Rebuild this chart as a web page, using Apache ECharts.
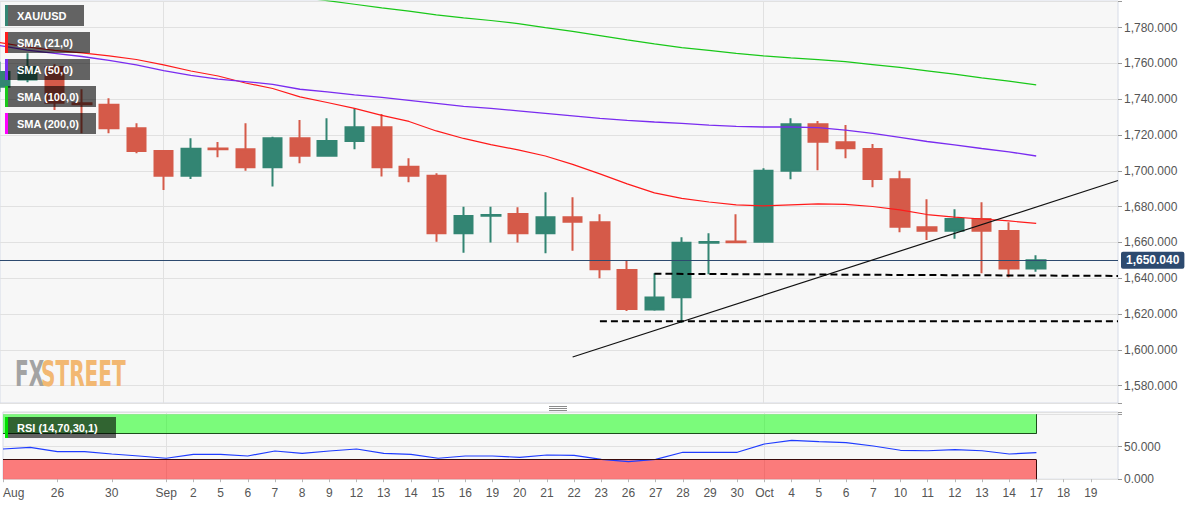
<!DOCTYPE html>
<html>
<head>
<meta charset="utf-8">
<script src="https://cdn.jsdelivr.net/npm/echarts@6/dist/echarts.min.js"></script>
<style>
html,body{margin:0;padding:0;background:#ffffff;}
#chart{width:1194px;height:506px;}
</style>
</head>
<body>
<div id="chart"></div>
<script>
// ---------- DATA ----------
const categories = ['2022-08-24','2022-08-25','2022-08-26','2022-08-29','2022-08-30','2022-08-31',
  '2022-09-01','2022-09-02','2022-09-05','2022-09-06','2022-09-07','2022-09-08','2022-09-09','2022-09-12',
  '2022-09-13','2022-09-14','2022-09-15','2022-09-16','2022-09-19','2022-09-20','2022-09-21','2022-09-22',
  '2022-09-23','2022-09-26','2022-09-27','2022-09-28','2022-09-29','2022-09-30','2022-10-03','2022-10-04',
  '2022-10-05','2022-10-06','2022-10-07','2022-10-10','2022-10-11','2022-10-12','2022-10-13','2022-10-14',
  '2022-10-17','2022-10-18','2022-10-19','2022-10-20'];
const tickLabels = ['Aug','','26','','30','',
  'Sep','2','5','6','7','8','9','12','13','14','15','16','19','20','21','22','23','26','27','28','29','30',
  'Oct','4','5','6','7','10','11','12','13','14','17','18','19',''];
const monthStarts = ['2022-09-01','2022-10-03'];

const candleOpen  = [1747,1751,1758,1737.8,1737,1723.8,1711.1,1697.3,1712.5,1712.1,1702,1718.2,1708.5,1716.7,
  1724.4,1702.3,1697.2,1665.1,1674.9,1675.9,1665.1,1674.1,1671.3,1644.6,1622.6,1629.4,1659.8,1660.5,1660.4,
  1700,1726,1716,1712.2,1695.3,1668.5,1666.6,1673.1,1666.4,1645.4];
const candleClose = [1755.3,1758,1738,1737.2,1723.8,1711.1,1697.3,1712.4,1712.1,1702,1718.2,1708.5,1716.7,1724.4,
  1702,1697.2,1665.1,1674.8,1675.4,1665.1,1674.1,1671.5,1645,1622.8,1629.2,1659.9,1660.3,1660.1,1700,
  1726,1716.3,1712.6,1695.5,1668.8,1666.6,1673.1,1666.6,1645.4,1650.04];
const candleLow   = [1744,1749.5,1734,1721,1721,1709.8,1689.3,1695.5,1707.6,1700,1691.2,1704.2,1708,1712.1,
  1696.8,1693.6,1660.4,1654.3,1660,1660,1654,1655.4,1640,1621.7,1621.9,1615.2,1642.2,1659.5,1659.9,
  1695.3,1700.3,1707,1690.8,1665.7,1661.4,1662,1642.8,1640.6,1643.7];
const candleHigh  = [1761,1765.7,1759.5,1745.6,1740.5,1726.6,1711.7,1718.2,1716.1,1726.6,1719.1,1728.4,1729.4,1735,
  1731.8,1707,1698.7,1680,1680,1679.6,1688,1685.3,1675.7,1649.7,1642.8,1662.9,1665.1,1675.7,1701.5,
  1729.4,1727.9,1725.6,1715,1700,1684.1,1678.5,1682.5,1671.3,1652.8];

const sma21  = [1771.7,1769.2,1767.3,1765.9,1764.2,1762.2,1759.2,1755.8,1753,1749.1,1746,1741.3,1738.2,1734.9,
  1731,1727.6,1722.3,1718.1,1714.7,1711.7,1708.3,1703.6,1698.3,1692.7,1687.7,1684.6,1682.6,1681,1680.4,
  1681,1681.6,1681.3,1680.1,1678.2,1675.6,1674.2,1673.1,1672,1670.7];
const sma50  = [1770,1767.5,1765.6,1763.9,1761.7,1759.2,1756,1753.3,1751.3,1749.9,1748.3,1745.6,1744.1,1742.4,
  1741,1739.4,1737.7,1736,1734.9,1733.5,1732.1,1730.7,1729.3,1728.2,1727.3,1726.5,1725.6,1724.8,1724.5,
  1724.5,1724.1,1722.8,1720.9,1718.7,1716.4,1714.5,1712.5,1710.6,1708.3];
const sma100 = [1819,1817,1815,1813,1811,1809,1807,1805,1803,1801,1799,1797,1795.1,1793.1,
  1791.1,1789.2,1787.2,1785.5,1784,1782.3,1780,1777.9,1775.6,1773.2,1770.9,1768.9,1767.3,1765.6,1764.2,
  1763.1,1762.1,1761,1759.4,1757.8,1755.9,1754,1752,1750.1,1748];
const sma200 = [1838,1837.5,1837,1836.4,1835.9,1835.3,1834.6,1834,1833.3,1832.7,1832,1831.3,1830.6,1829.9,
  1829.1,1828.4,1827.6,1826.8,1826,1825.2,1824.4,1823.6,1822.8,1822,1821.1,1820.3,1819.5,1818.6,1817.8,
  1817,1816.2,1815.3,1814.5,1813.6,1812.8,1811.9,1811.1,1810.2,1809.4];

const rsi = [46.5,49.1,42.3,42.3,38.8,35.7,32.2,38.3,38.3,35.7,43.4,39.8,43.4,46.5,39.8,38.3,32.2,35.7,35.7,
  33.7,37.2,36.8,30.6,26.9,30.6,41.4,41.4,41.4,54.2,59.8,57.7,56.2,51.1,44.5,43.8,45.4,43.8,38.8,40.8];
const rsiUpper = 70, rsiLower = 30;

const lastPrice = 1650.04;
const trendLine   = [['2022-09-22',1596.0],['2022-10-20',1694.6]];
const supportHigh = [['2022-09-27',1642.5],['2022-10-20',1641.3]];
const supportLow  = [['2022-09-23',1616.0],['2022-10-20',1616.0]];

const yMainMin = 1570.3, yMainMax = 1794.9;
const legendItems = ['XAU/USD','SMA (21,0)','SMA (50,0)','SMA (100,0)','SMA (200,0)'];
const legendColors = ['#338573','#ff1a1a','#7a2cf0','#19c819','#ff00ff'];
const rsiLabel = 'RSI (14,70,30,1)';

// ---------- BUILD ----------
const candleData = candleOpen.map((o, i) => [o, candleClose[i], candleLow[i], candleHigh[i]]);
const lastIdx = candleOpen.length - 1;
const fmt3 = v => v.toLocaleString('en-US', {minimumFractionDigits: 3, maximumFractionDigits: 3});
const UP = '#338573', DOWN = '#d55a49';
const FONT = '"Liberation Sans", Arial, sans-serif';

const gridBox = {show: true, backgroundColor: '#f7f7f7', borderColor: '#d6dbe7', borderWidth: 1};

function legendBox(x, y, w, color, text) {
  return [
    {type: 'rect', z: 100, zlevel: 1, shape: {x: x, y: y, width: w, height: 21}, style: {fill: 'rgba(0,0,0,0.6)'}},
    {type: 'rect', z: 101, zlevel: 1, shape: {x: x, y: y, width: 3, height: 21}, style: {fill: color}},
    {type: 'text', z: 102, zlevel: 1, x: x + 12, y: y + 10.5,
      style: {text: text, fill: '#ffffff', font: 'bold 11px ' + FONT, verticalAlign: 'middle'}}
  ];
}
const legendWidths = [79, 85, 85, 91, 91];
const legendTops = [5, 32, 59, 86, 113];

const graphics = [];
legendItems.forEach((t, i) => graphics.push(...legendBox(5, legendTops[i], legendWidths[i], legendColors[i], t)));
graphics.push(...legendBox(5, 417, 111, '#00e000', rsiLabel));
graphics.push(
  {type: 'text', x: 15, y: 355, z: 50, scaleX: 0.62,
    style: {text: 'FX', fill: '#a3a3a3', font: 'bold 36px "Liberation Sans Narrow", "DejaVu Sans Condensed", sans-serif'}},
  {type: 'text', x: 41, y: 355, z: 50, scaleX: 0.62,
    style: {text: 'STREET', fill: '#f2b872', font: 'bold 36px "Liberation Sans Narrow", "DejaVu Sans Condensed", sans-serif'}},
  {type: 'line', z: 50, shape: {x1: 549, y1: 406.5, x2: 567, y2: 406.5}, style: {stroke: '#8c8c8c', lineWidth: 1}},
  {type: 'line', z: 50, shape: {x1: 549, y1: 408.5, x2: 567, y2: 408.5}, style: {stroke: '#8c8c8c', lineWidth: 1}},
  {type: 'line', z: 50, shape: {x1: 549, y1: 410.5, x2: 567, y2: 410.5}, style: {stroke: '#8c8c8c', lineWidth: 1}}
);

const chart = echarts.init(document.getElementById('chart'), null, {renderer: 'svg'});
chart.setOption({
  animation: false,
  backgroundColor: '#ffffff',
  textStyle: {fontFamily: FONT},
  grid: [
    Object.assign({left: 0, top: 1, width: 1118, height: 402}, gridBox),
    Object.assign({left: 0, top: 412, width: 1118, height: 67.2}, gridBox)
  ],
  xAxis: [
    {
      type: 'category', gridIndex: 0, data: categories, boundaryGap: false,
      axisLine: {show: false}, axisTick: {show: false}, axisLabel: {show: false},
      splitLine: {show: true, interval: (i, v) => monthStarts.includes(v), lineStyle: {color: '#e1e1e1'}}
    },
    {
      type: 'category', gridIndex: 1, data: categories, boundaryGap: false,
      axisLine: {show: false},
      axisTick: {show: true, length: 3, interval: (i) => tickLabels[i] !== '', lineStyle: {color: '#b8b8b8'}},
      axisLabel: {
        show: true, interval: 0, margin: 8, color: '#555', fontSize: 12, fontFamily: FONT,
        formatter: (v, i) => tickLabels[i], alignMinLabel: 'left'
      },
      splitLine: {show: true, interval: (i, v) => monthStarts.includes(v), lineStyle: {color: '#e1e1e1'}}
    }
  ],
  yAxis: [
    {
      type: 'value', gridIndex: 0, position: 'right', min: yMainMin, max: yMainMax,
      minInterval: 20, maxInterval: 20, splitNumber: 11,
      axisLine: {show: false},
      axisTick: {show: true, length: 4, lineStyle: {color: '#9a9a9a'}},
      axisLabel: {margin: 6, color: '#555', fontSize: 12, fontFamily: FONT,
        formatter: v => (Math.abs(v % 20) < 1e-6 ? fmt3(v) : '')},
      splitLine: {show: true, lineStyle: {color: '#e1e1e1'}}
    },
    {
      type: 'value', gridIndex: 1, position: 'right', min: 0, max: 103.4,
      minInterval: 50, maxInterval: 50,
      axisLine: {show: false},
      axisTick: {show: true, length: 4, lineStyle: {color: '#9a9a9a'}},
      axisLabel: {margin: 6, color: '#555', fontSize: 12, fontFamily: FONT,
        formatter: v => (v === 0 || v === 50 ? fmt3(v) : '')},
      splitLine: {show: true, lineStyle: {color: '#e1e1e1'}}
    }
  ],
  series: [
    {
      name: 'XAU/USD', type: 'candlestick', xAxisIndex: 0, yAxisIndex: 0,
      data: candleData, barWidth: 19, z: 3,
      itemStyle: {color: UP, color0: DOWN, borderColor: UP, borderColor0: DOWN, borderWidth: 2},
      markLine: {
        silent: true, symbol: ['none', 'none'],
        lineStyle: {color: '#2d4a6f', type: 'solid', width: 1},
        label: {
          show: true, position: 'end', distance: 3, formatter: () => fmt3(lastPrice),
          color: '#ffffff', fontWeight: 'bold', fontSize: 12, fontFamily: FONT,
          backgroundColor: '#2d4a6f', padding: [3, 5, 2, 5], borderRadius: 2
        },
        data: [{yAxis: lastPrice}]
      }
    },
    {name: 'SMA (21,0)', type: 'line', xAxisIndex: 0, yAxisIndex: 0, data: sma21, symbol: 'none',
      lineStyle: {color: legendColors[1], width: 1.2}, z: 4},
    {name: 'SMA (50,0)', type: 'line', xAxisIndex: 0, yAxisIndex: 0, data: sma50, symbol: 'none',
      lineStyle: {color: legendColors[2], width: 1.3}, z: 4},
    {name: 'SMA (100,0)', type: 'line', xAxisIndex: 0, yAxisIndex: 0, data: sma100, symbol: 'none',
      lineStyle: {color: legendColors[3], width: 1.2}, z: 4},
    {name: 'SMA (200,0)', type: 'line', xAxisIndex: 0, yAxisIndex: 0, data: sma200, symbol: 'none',
      lineStyle: {color: legendColors[4], width: 1.2}, z: 4},
    {name: 'Trend', type: 'line', xAxisIndex: 0, yAxisIndex: 0, data: trendLine, symbol: 'none',
      lineStyle: {color: '#111111', width: 1.2}, z: 5},
    {name: 'Support 1', type: 'line', xAxisIndex: 0, yAxisIndex: 0, data: supportHigh, symbol: 'none',
      lineStyle: {color: '#000000', width: 2, type: [7, 4]}, z: 5},
    {name: 'Support 2', type: 'line', xAxisIndex: 0, yAxisIndex: 0, data: supportLow, symbol: 'none',
      lineStyle: {color: '#000000', width: 2, type: [7, 4]}, z: 5},
    {
      name: 'RSI', type: 'line', xAxisIndex: 1, yAxisIndex: 1, data: rsi, symbol: 'none',
      lineStyle: {color: '#1f3cff', width: 1.2}, z: 4,
      markArea: {
        silent: true,
        data: [
          [{coord: [categories[0], rsiUpper], itemStyle: {color: 'rgba(0,255,0,0.5)'}}, {coord: [categories[lastIdx], 100]}],
          [{coord: [categories[0], 0], itemStyle: {color: 'rgba(255,0,0,0.5)'}}, {coord: [categories[lastIdx], rsiLower]}]
        ]
      },
      markLine: {
        silent: true, symbol: ['none', 'none'], label: {show: false},
        data: [
          [{coord: [categories[0], rsiUpper], lineStyle: {color: '#1b4d1b', width: 1, type: 'solid'}}, {coord: [categories[lastIdx], rsiUpper]}],
          [{coord: [categories[lastIdx], rsiUpper], lineStyle: {color: '#1b4d1b', width: 1, type: 'solid'}}, {coord: [categories[lastIdx], 100]}],
          [{coord: [categories[0], rsiLower], lineStyle: {color: '#3a0a0a', width: 1, type: 'solid'}}, {coord: [categories[lastIdx], rsiLower]}],
          [{coord: [categories[lastIdx], 0], lineStyle: {color: '#3a0a0a', width: 1, type: 'solid'}}, {coord: [categories[lastIdx], rsiLower]}]
        ]
      }
    }
  ],
  graphic: graphics
});
</script>
</body>
</html>
